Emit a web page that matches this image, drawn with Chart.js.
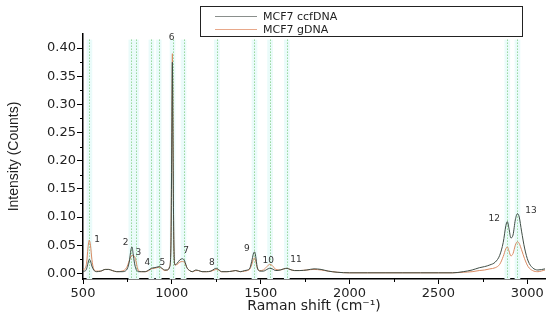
<!DOCTYPE html>
<html><head><meta charset="utf-8">
<script src="https://cdn.jsdelivr.net/npm/chart.js@4"></script>
<style>
html,body{margin:0;padding:0;background:#fff;}
#wrap{position:relative;width:550px;height:324px;}
#legend{position:absolute;left:200px;top:6px;width:323px;height:31px;border:1.5px solid #222;box-sizing:border-box;font-family:'DejaVu Sans',sans-serif;font-size:11px;color:#222;}
.row{position:absolute;left:0;height:13px;line-height:13px;}
.sw{position:absolute;left:14px;top:6px;width:42px;height:0;border-top:1px solid;}
.lb{position:absolute;left:62px;top:0;white-space:nowrap;}
</style></head>
<body>
<div id="wrap">
<canvas id="c" width="550" height="324"></canvas>
<div id="legend"></div>
</div>
<script>
// ---- data ----
const seriesNames = ['MCF7 ccfDNA', 'MCF7 gDNA'];
const wavenumbers = [500,510,520,528,535,542,550,560,575,600,625,645,665,690,720,745,760,770,776,782,790,798,806,815,830,850,870,885,900,915,930,945,960,975,988,995,1000,1003,1006,1011,1018,1030,1045,1060,1072,1085,1100,1115,1135,1150,1170,1195,1220,1240,1250,1262,1280,1310,1340,1360,1385,1410,1425,1440,1452,1460,1466,1472,1480,1495,1515,1535,1550,1565,1585,1610,1630,1648,1665,1690,1720,1760,1800,1840,1880,1930,2000,2100,2200,2300,2400,2500,2580,2640,2690,2730,2760,2790,2820,2845,2865,2880,2888,2897,2908,2920,2933,2945,2955,2968,2985,3005,3030,3060,3100];
const ccfDNA = [0.004,0.004,0.008,0.018,0.025,0.022,0.013,0.006,0.003,0.004,0.007,0.007,0.005,0.003,0.003,0.006,0.020,0.042,0.047,0.035,0.018,0.008,0.004,0.003,0.003,0.003,0.006,0.009,0.010,0.011,0.012,0.009,0.006,0.006,0.012,0.050,0.250,0.375,0.250,0.060,0.015,0.018,0.024,0.026,0.022,0.010,0.005,0.003,0.006,0.005,0.003,0.003,0.004,0.008,0.009,0.007,0.003,0.003,0.004,0.005,0.003,0.005,0.006,0.010,0.025,0.036,0.038,0.030,0.012,0.004,0.004,0.007,0.009,0.008,0.005,0.006,0.008,0.009,0.007,0.005,0.005,0.006,0.008,0.007,0.004,0.002,0.001,0.001,0.001,0.001,0.001,0.001,0.001,0.003,0.006,0.010,0.012,0.015,0.020,0.032,0.055,0.085,0.092,0.080,0.063,0.068,0.095,0.106,0.100,0.075,0.045,0.022,0.010,0.006,0.008];
const gDNA = [0.006,0.008,0.018,0.045,0.059,0.050,0.025,0.008,0.004,0.004,0.007,0.007,0.005,0.003,0.004,0.010,0.022,0.030,0.032,0.031,0.030,0.022,0.010,0.004,0.003,0.003,0.005,0.008,0.009,0.010,0.011,0.008,0.005,0.006,0.012,0.060,0.270,0.390,0.260,0.060,0.015,0.016,0.020,0.021,0.019,0.010,0.005,0.003,0.005,0.005,0.003,0.003,0.004,0.006,0.007,0.006,0.003,0.003,0.004,0.005,0.003,0.004,0.005,0.008,0.018,0.026,0.027,0.022,0.010,0.005,0.006,0.012,0.016,0.014,0.007,0.006,0.008,0.009,0.007,0.005,0.005,0.006,0.007,0.006,0.004,0.002,0.001,0.001,0.001,0.001,0.001,0.001,0.001,0.002,0.003,0.005,0.006,0.008,0.010,0.016,0.030,0.044,0.047,0.040,0.031,0.035,0.050,0.056,0.053,0.042,0.026,0.012,0.005,0.003,0.006];
const peakLines = [536,772,800,885,926,1004,1066,1253,1465,1553,1647,2888,2945];
const peakLabels = ['1','2','3','4','5','6','7','8','9','10','11','12','13'];
const peakLabelX = [580,740,811,862,946,999,1080,1225,1422,1543,1699,2814,3021];
const peakLabelY = [0.060,0.054,0.037,0.019,0.019,0.419,0.040,0.019,0.044,0.0226,0.025,0.098,0.111];
const xTickValues = [500,1000,1500,2000,2500,3000];
const xMinorValues = [750,1250,1750,2250,2750];
const yTickValues = [0,0.05,0.10,0.15,0.20,0.25,0.30,0.35,0.40];
const yMinorValues = [0.025,0.075,0.125,0.175,0.225,0.275,0.325,0.375];
const xTitle = 'Raman shift (cm\u207B\u00B9)';
const yTitle = 'Intensity (Counts)';

// ---- style ----
const colors = ['#3f4d45', '#d98a62'];
const legendColors = ['#8a8f8c', '#e8a88a'];

// legend (HTML)
const lg = document.getElementById('legend');
seriesNames.forEach((n, i) => {
  const r = document.createElement('div');
  r.className = 'row';
  r.style.top = (3 + i * 13) + 'px';
  r.innerHTML = '<span class="sw" style="border-color:' + legendColors[i] + '"></span><span class="lb">' + n + '</span>';
  lg.appendChild(r);
});

const decor = {
  id: 'decor',
  beforeDatasetsDraw(chart) {
    const {ctx, chartArea, scales: {x, y}} = chart;
    ctx.save();
    ctx.beginPath();
    ctx.rect(chartArea.left, chartArea.top, chartArea.right - chartArea.left, chartArea.bottom - chartArea.top);
    ctx.clip();
    const top = y.getPixelForValue(0.415);
    ctx.fillStyle = '#eafbfa';
    peakLines.forEach(p => {
      const a = x.getPixelForValue(p - 16), b = x.getPixelForValue(p + 16);
      ctx.fillRect(a, top, b - a, chartArea.bottom - top);
    });
    ctx.strokeStyle = '#6cc46c';
    ctx.lineWidth = 1;
    ctx.setLineDash([1, 2]);
    peakLines.forEach(p => {
      const px = Math.round(x.getPixelForValue(p)) + 0.5;
      ctx.beginPath();
      ctx.moveTo(px, top);
      ctx.lineTo(px, chartArea.bottom);
      ctx.stroke();
    });
    ctx.restore();
  },
  afterDatasetsDraw(chart) {
    const {ctx, scales: {x, y}} = chart;
    ctx.save();
    ctx.fillStyle = '#333';
    ctx.font = '9px "DejaVu Sans"';
    ctx.textAlign = 'center';
    ctx.textBaseline = 'middle';
    peakLabels.forEach((t, i) => ctx.fillText(t, x.getPixelForValue(peakLabelX[i]), y.getPixelForValue(peakLabelY[i])));
    // minor ticks
    ctx.strokeStyle = '#000';
    ctx.lineWidth = 1;
    const ca = chart.chartArea;
    xMinorValues.forEach(v => {
      const px = Math.round(x.getPixelForValue(v)) + 0.5;
      ctx.beginPath(); ctx.moveTo(px, ca.bottom); ctx.lineTo(px, ca.bottom + 3); ctx.stroke();
    });
    yMinorValues.forEach(v => {
      const py = Math.round(y.getPixelForValue(v)) + 0.5;
      ctx.beginPath(); ctx.moveTo(ca.left, py); ctx.lineTo(ca.left - 3, py); ctx.stroke();
    });
    ctx.restore();
  }
};

new Chart(document.getElementById('c'), {
  type: 'line',
  data: {
    datasets: [ccfDNA, gDNA].map((vals, i) => ({
      label: seriesNames[i],
      data: wavenumbers.map((w, k) => ({x: w, y: vals[k]})),
      borderColor: colors[i],
      borderWidth: 1,
      pointRadius: 0,
      fill: false,
      cubicInterpolationMode: 'monotone'
    }))
  },
  options: {
    responsive: false,
    animation: false,
    layout: {padding: {top: 34, right: 5, left: 0, bottom: 0}},
    plugins: {legend: {display: false}, tooltip: {enabled: false}},
    scales: {
      x: {
        type: 'linear', min: 500, max: 3100,
        afterBuildTicks: s => { s.ticks = xTickValues.map(v => ({value: v})); },
        afterFit: s => { s.height = 45; },
        grid: {drawOnChartArea: false, drawTicks: true, tickLength: 5, color: '#000', lineWidth: 1},
        border: {display: true, color: '#000', width: 1.5},
        ticks: {font: {family: 'DejaVu Sans', size: 13}, color: '#222', padding: 2, maxRotation: 0, callback: v => String(v)},
        title: {display: true, text: xTitle, font: {family: 'DejaVu Sans', size: 14}, color: '#222', padding: {top: 0, bottom: 9}}
      },
      y: {
        min: -0.01, max: 0.425,
        afterBuildTicks: s => { s.ticks = yTickValues.map(v => ({value: v})); },
        afterFit: s => { s.width = 83; },
        grid: {drawOnChartArea: false, drawTicks: true, tickLength: 6, color: '#000', lineWidth: 1},
        border: {display: true, color: '#000', width: 1.5},
        ticks: {font: {family: 'DejaVu Sans', size: 13}, color: '#222', padding: 1, callback: v => v.toFixed(2)},
        title: {display: true, text: yTitle, font: {family: 'Liberation Sans', size: 14}, color: '#222', padding: {top: 6, bottom: 0}}
      }
    }
  },
  plugins: [decor]
});
</script>
</body></html>
